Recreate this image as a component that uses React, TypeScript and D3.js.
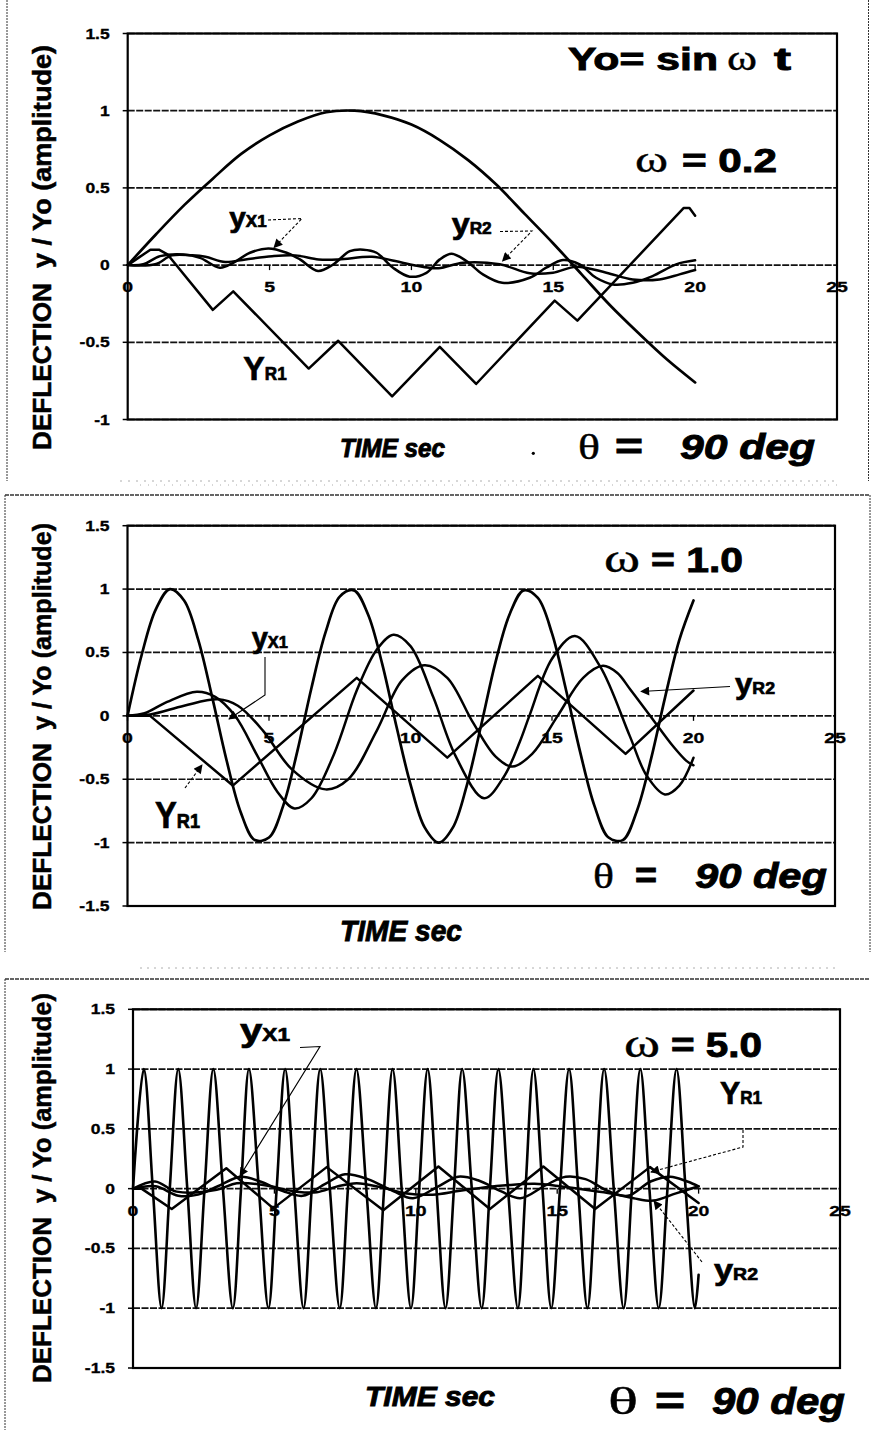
import * as d3 from 'd3';

type Pt = [number, number];

// shared axes
const X_TICKS = [0, 5, 10, 15, 20, 25];
const Y_TICKS_TOP = [-1, -0.5, 0, 0.5, 1, 1.5];
const Y_TICKS_FULL = [-1.5, -1, -0.5, 0, 0.5, 1, 1.5];

// ω = 0.2  [time sec, y/Yo]
const P1_YO: Pt[] = [
  [0, 0], [1, 0.2], [2, 0.39], [3, 0.56], [4, 0.72], [5, 0.84], [6, 0.93], [7, 0.99],
  [8, 1.0], [9, 0.97], [10, 0.91], [11, 0.81], [12, 0.68], [13, 0.52], [14, 0.33],
  [15, 0.14], [16, -0.06], [17, -0.26], [18, -0.44], [19, -0.61], [20, -0.76],
];
const P1_YR1: Pt[] = [
  [0, 0], [0.4, 0.05], [0.8, 0.1], [1.1, 0.1], [1.4, 0.07], [3.0, -0.29], [3.72, -0.17],
  [6.38, -0.67], [7.42, -0.49], [9.32, -0.85], [11.0, -0.53], [12.28, -0.77],
  [15.05, -0.23], [15.85, -0.36], [19.6, 0.37], [19.8, 0.37], [20, 0.32],
];
const P1_YX1: Pt[] = [
  [0, 0], [0.55, 0.005], [1.14, 0.058], [1.96, 0.069], [2.55, 0.047], [3.25, -0.017],
  [3.72, 0.015], [4.31, 0.08], [4.96, 0.108], [5.6, 0.08], [6.07, 0.037], [6.71, -0.038],
  [7.24, 0.004], [7.83, 0.09], [8.3, 0.1], [8.77, 0.08], [9.35, -0.017], [9.94, -0.075],
  [10.53, -0.05], [11.0, 0.037], [11.41, 0.074], [11.94, 0.026], [12.52, -0.06],
  [13.2, -0.114], [14.17, -0.082], [14.75, -0.017], [15.34, 0.033], [15.93, 0.005],
  [16.51, -0.082], [17.1, -0.125], [17.8, -0.114], [18.5, -0.071], [19.33, 0.005],
  [20, 0.031],
];
const P1_YR2: Pt[] = [
  [0, 0], [0.97, 0.005], [1.56, 0.063], [2.27, 0.063], [2.74, 0.054], [3.44, 0.02],
  [4.15, 0.037], [5.09, 0.058], [5.91, 0.063], [6.73, 0.037], [7.44, 0.037], [8.61, 0.054],
  [9.43, 0.026], [10.13, -0.002], [10.95, -0.02], [11.82, 0.016], [13.11, 0.005],
  [14.17, -0.053], [14.99, -0.049], [15.81, -0.01], [16.87, -0.049], [17.8, -0.093],
  [18.74, -0.093], [19.45, -0.06], [20, -0.032],
];

// ω = 1.0
const P2_YO: Pt[] = [
  [0, 0], [0.5, 0.48], [1, 0.84], [1.5, 1.0], [2, 0.91], [2.5, 0.6], [3, 0.14], [3.5, -0.35],
  [4, -0.76], [4.5, -0.98], [5, -0.96], [5.5, -0.71], [6, -0.28], [6.5, 0.22], [7, 0.66],
  [7.5, 0.94], [8, 0.99], [8.5, 0.8], [9, 0.41], [9.5, -0.08], [10, -0.54], [10.5, -0.88],
  [11, -1.0], [11.5, -0.88], [12, -0.54], [12.5, -0.07], [13, 0.42], [13.5, 0.8], [14, 0.99],
  [14.5, 0.93], [15, 0.65], [15.5, 0.2], [16, -0.29], [16.5, -0.71], [17, -0.96],
  [17.5, -0.98], [18, -0.75], [18.5, -0.34], [19, 0.15], [19.5, 0.6], [20, 0.91],
];
const P2_YR1: Pt[] = [
  [0, 0], [0.8, 0], [3.72, -0.55], [8.1, 0.3], [11.3, -0.33], [14.5, 0.315], [17.6, -0.3],
  [20, 0.2],
];
const P2_YX1: Pt[] = [
  [0, 0], [0.6, 0.02], [1.4, 0.11], [2.45, 0.19], [3.1, 0.15], [3.8, 0.0], [4.6, -0.32],
  [5.3, -0.6], [5.9, -0.73], [6.5, -0.65], [7.3, -0.3], [8.1, 0.2], [8.8, 0.52], [9.4, 0.64],
  [10.0, 0.55], [10.8, 0.15], [11.6, -0.32], [12.6, -0.65], [13.3, -0.48], [13.87, -0.2],
  [14.2, 0.0], [15.0, 0.45], [15.81, 0.63], [16.7, 0.39], [17.75, -0.16], [18.34, -0.47],
  [18.99, -0.62], [19.5, -0.55], [20, -0.33],
];
const P2_YR2: Pt[] = [
  [0, 0], [0.8, 0.01], [2.0, 0.08], [3.2, 0.13], [3.9, 0.08], [4.8, -0.12], [5.8, -0.42],
  [7.0, -0.58], [7.8, -0.5], [8.8, -0.12], [9.7, 0.28], [10.5, 0.4], [11.3, 0.3],
  [12.2, -0.05], [13.0, -0.32], [13.6, -0.4], [14.3, -0.3], [15.2, 0.0], [16.1, 0.3],
  [16.8, 0.395], [17.3, 0.34], [17.76, 0.21], [18.57, -0.03], [19.28, -0.24],
  [19.75, -0.355], [20, -0.39],
];

// ω = 5.0
const P3_YO: Pt[] = [
  [0, 0], [0.38, 1], [0.7, 0], [1.01, -1], [1.3, 0], [1.6, 1], [1.92, 0], [2.23, -1],
  [2.53, 0], [2.84, 1], [3.18, 0], [3.53, -1], [3.82, 0], [4.1, 1], [4.45, 0], [4.79, -1],
  [5.08, 0], [5.38, 1], [5.7, 0], [6.03, -1], [6.32, 0], [6.62, 1], [6.96, 0], [7.31, -1],
  [7.6, 0], [7.9, 1], [8.25, 0], [8.59, -1], [8.88, 0], [9.18, 1], [9.5, 0], [9.83, -1],
  [10.12, 0], [10.42, 1], [10.73, 0], [11.05, -1], [11.35, 0], [11.64, 1], [11.98, 0],
  [12.33, -1], [12.62, 0], [12.92, 1], [13.26, 0], [13.61, -1], [13.88, 0], [14.16, 1],
  [14.48, 0], [14.79, -1], [15.1, 0], [15.42, 1], [15.74, 0], [16.07, -1], [16.36, 0],
  [16.66, 1], [17.0, 0], [17.35, -1], [17.64, 0], [17.94, 1], [18.26, 0], [18.59, -1],
  [18.9, 0], [19.22, 1], [19.54, 0], [19.87, -1], [20, -0.72],
];
const P3_YR1: Pt[] = [
  [0, 0], [0.3, 0], [1.37, -0.17], [3.3, 0.17], [4.96, -0.165], [6.85, 0.18], [8.85, -0.18],
  [10.8, 0.185], [12.62, -0.17], [14.51, 0.185], [16.34, -0.17], [18.28, 0.18], [20, -0.12],
];
const P3_YX1: Pt[] = [
  [0, 0], [0.8, 0.02], [1.6, -0.06], [2.3, -0.05], [3.0, 0.02], [3.8, 0.1], [4.5, 0.06],
  [5.3, -0.02], [6.0, -0.06], [6.8, 0.04], [7.5, 0.12], [8.3, 0.08], [9.2, -0.02],
  [9.9, -0.08], [10.8, 0.02], [11.5, 0.1], [12.2, 0.07], [13.0, -0.02], [13.7, -0.08],
  [14.6, 0.03], [15.3, 0.1], [16.0, 0.08], [16.8, -0.02], [17.5, -0.06], [18.3, 0.06],
  [19.0, 0.1], [19.6, 0.06], [20, 0.02],
];
const P3_YR2: Pt[] = [
  [0, 0], [0.78, 0.06], [1.54, -0.025], [2.96, -0.01], [3.67, 0.045], [4.61, 0.03],
  [5.79, -0.025], [6.5, -0.03], [7.2, 0.017], [7.91, 0.045], [8.8, 0.01], [9.68, -0.04],
  [10.6, -0.05], [11.5, -0.02], [12.4, 0.01], [13.3, 0.03], [14.2, 0.04], [15.1, 0.02],
  [16.0, -0.01], [16.9, -0.04], [17.7, -0.08], [18.4, -0.1], [19.2, -0.04], [20, 0.02],
];

const SANS = "'Liberation Sans', Arial, Helvetica, sans-serif";
const SERIF = "'Liberation Serif', 'Times New Roman', Times, serif";

type Geo = { left: number; right: number; top: number; bottom: number; yMin: number; yMax: number };
type Series = { data: Pt[]; zig?: boolean; w?: number };

// heavy scanned-print look: bold glyphs with a thin outline
function Txt({
  x, y, w, size, serif = false, italic = false, weight = 'bold', children,
}: {
  x: number; y: number; w: number; size: number; serif?: boolean; italic?: boolean;
  weight?: string; children: React.ReactNode;
}) {
  return (
    <text
      x={x}
      y={y}
      fontSize={size}
      fontFamily={serif ? SERIF : SANS}
      fontWeight={weight}
      fontStyle={italic ? 'italic' : 'normal'}
      textLength={w}
      lengthAdjust="spacingAndGlyphs"
      fill="#000"
      stroke="#000"
      strokeWidth={serif ? 0.4 : 0.9}
    >
      {children}
    </text>
  );
}

function Sub({ x, y, w, big, small, main, sub }: {
  x: number; y: number; w: number; big: number; small: number; main: string; sub: string;
}) {
  return (
    <text x={x} y={y} fontFamily={SANS} fontWeight="bold" textLength={w}
      lengthAdjust="spacingAndGlyphs" fill="#000" stroke="#000" strokeWidth={0.7}>
      <tspan fontSize={big}>{main}</tspan>
      <tspan fontSize={small}>{sub}</tspan>
    </text>
  );
}

function Leader({ pts, dashed = false }: { pts: Pt[]; dashed?: boolean }) {
  return (
    <polyline
      points={pts.map((p) => p.join(',')).join(' ')}
      fill="none"
      stroke="#000"
      strokeWidth={1.1}
      strokeDasharray={dashed ? '3 2' : undefined}
      markerEnd="url(#arr)"
    />
  );
}

function YTitle({ x, yStart1, len1, yStart2, len2 }: {
  x: number; yStart1: number; len1: number; yStart2: number; len2: number;
}) {
  return (
    <g fontFamily={SANS} fontWeight="bold" fontSize={25} fill="#000" stroke="#000" strokeWidth={0.5}>
      <text transform={`translate(${x},${yStart1}) rotate(-90)`} textLength={len1}
        lengthAdjust="spacingAndGlyphs">DEFLECTION</text>
      <text transform={`translate(${x},${yStart2}) rotate(-90)`} textLength={len2}
        lengthAdjust="spacingAndGlyphs">y / Yo (amplitude)</text>
    </g>
  );
}

function Plot({ g, yTicks, series }: { g: Geo; yTicks: number[]; series: Series[] }) {
  const x = d3.scaleLinear().domain([0, 25]).range([g.left, g.right]);
  const y = d3.scaleLinear().domain([g.yMin, g.yMax]).range([g.bottom, g.top]);
  const y0 = y(0);
  return (
    <g>
      {yTicks.map((t) => (
        <line key={'g' + t} x1={g.left} x2={g.right} y1={y(t)} y2={y(t)}
          stroke="#111" strokeWidth={1.7} strokeDasharray="7 1.5" />
      ))}
      {series.map((s, i) => {
        const line = d3
          .line<Pt>()
          .x((d) => x(d[0]))
          .y((d) => y(d[1]))
          .curve(s.zig ? d3.curveLinear : d3.curveCatmullRom.alpha(0.5));
        return (
          <path key={i} d={line(s.data) ?? ''} fill="none" stroke="#000"
            strokeWidth={s.w ?? 2.5} strokeLinejoin="round" strokeLinecap="round" />
        );
      })}
      <rect x={g.left} y={g.top} width={g.right - g.left} height={g.bottom - g.top}
        fill="none" stroke="#000" strokeWidth={2.2} />
      {yTicks.map((t) => (
        <g key={'y' + t}>
          <line x1={g.left - 5} x2={g.left} y1={y(t)} y2={y(t)} stroke="#000" strokeWidth={1.5} />
          <text transform={`translate(${g.left - 18},${y(t) + 5}) scale(1.25,1)`}
            textAnchor="end" fontFamily={SANS} fontWeight="bold" fontSize={14}
            stroke="#000" strokeWidth={0.3}>
            {String(t)}
          </text>
        </g>
      ))}
      {X_TICKS.map((t) => (
        <g key={'x' + t}>
          <line x1={x(t)} x2={x(t)} y1={y0} y2={y0 + 5} stroke="#000" strokeWidth={1.3} />
          <text transform={`translate(${x(t)},${y0 + 27}) scale(1.3,1)`}
            textAnchor="middle" fontFamily={SANS} fontWeight="bold" fontSize={15}
            stroke="#000" strokeWidth={0.3}>
            {String(t)}
          </text>
        </g>
      ))}
    </g>
  );
}

export default function App() {
  const g1: Geo = { left: 127.7, right: 837, top: 33.5, bottom: 419.5, yMin: -1, yMax: 1.5 };
  const g2: Geo = { left: 127.5, right: 835, top: 525.7, bottom: 906, yMin: -1.5, yMax: 1.5 };
  const g3: Geo = { left: 133, right: 840, top: 1009.3, bottom: 1368, yMin: -1.5, yMax: 1.5 };

  return (
    <div style={{ position: 'absolute', left: 0, top: 0 }}>
      <svg width={873} height={1430} viewBox="0 0 873 1430" style={{ display: 'block', background: '#fff' }}>
        <defs>
          <marker id="arr" viewBox="0 0 10 10" refX="9" refY="5" markerUnits="userSpaceOnUse"
            markerWidth="11" markerHeight="9" orient="auto">
            <path d="M0,0 L10,5 L0,10 z" fill="#000" />
          </marker>
        </defs>
        <rect width={873} height={1430} fill="#fff" />

        {/* panel frames (scan borders) */}
        <g stroke="#333" fill="none">
          <line x1={7} x2={7} y1={0} y2={481} strokeWidth={1} strokeDasharray="2 1" />
          <line x1={868.5} x2={868.5} y1={0} y2={481} strokeWidth={1} strokeDasharray="2 1" />
          <line x1={120} x2={840} y1={481} y2={481} strokeWidth={0.8} stroke="#999" strokeDasharray="2 6" />
          <line x1={140} x2={840} y1={485} y2={485} strokeWidth={0.8} stroke="#999" strokeDasharray="1 7" />
          <line x1={5} x2={870} y1={495} y2={495} strokeWidth={1.6} strokeDasharray="4 1" />
          <line x1={5} x2={5} y1={495} y2={952} strokeWidth={1} strokeDasharray="2 1" />
          <line x1={870} x2={870} y1={495} y2={952} strokeWidth={1} strokeDasharray="2 1" />
          <line x1={140} x2={840} y1={968} y2={968} strokeWidth={0.8} stroke="#999" strokeDasharray="2 5" />
          <line x1={5} x2={870} y1={979} y2={979} strokeWidth={1.6} strokeDasharray="4 1" />
          <line x1={5} x2={5} y1={979} y2={1430} strokeWidth={1} strokeDasharray="2 1" />
        </g>

        {/* ---------- panel 1 : ω = 0.2 ---------- */}
        <Plot g={g1} yTicks={Y_TICKS_TOP} series={[
          { data: P1_YO, w: 2.7 },
          { data: P1_YR1, zig: true },
          { data: P1_YX1 },
          { data: P1_YR2 },
        ]} />
        <YTitle x={51} yStart1={450} len1={167} yStart2={268} len2={223} />
        <Txt x={568} y={70} w={150} size={32}>Yo= sin</Txt>
        <Txt x={727} y={70} w={30} size={36} serif weight="normal">ω</Txt>
        <Txt x={774} y={70} w={17} size={32}>t</Txt>
        <Txt x={635} y={172} w={33} size={38} serif weight="normal">ω</Txt>
        <Txt x={682} y={172} w={95} size={33}>= 0.2</Txt>
        <Sub x={229.3} y={227} w={37.4} big={28} small={16} main="y" sub="X1" />
        <Leader pts={[[268, 220], [302, 218.5], [274, 247.5]]} dashed />
        <Sub x={451.7} y={234} w={40} big={30} small={16} main="y" sub="R2" />
        <Leader pts={[[500, 231.5], [532, 231], [502.5, 261]]} dashed />
        <Sub x={243.3} y={380} w={43.4} big={34} small={18} main="Y" sub="R1" />
        <Txt x={340} y={457} w={105} size={25} italic>TIME sec</Txt>
        <circle cx={533.3} cy={453.3} r={1.6} fill="#000" />
        <Txt x={578} y={459} w={22} size={36} serif weight="normal">θ</Txt>
        <Txt x={615} y={459} w={28} size={36}>=</Txt>
        <Txt x={680} y={459} w={135} size={35} italic>90 deg</Txt>

        {/* ---------- panel 2 : ω = 1.0 ---------- */}
        <Plot g={g2} yTicks={Y_TICKS_FULL} series={[
          { data: P2_YO, w: 2.7 },
          { data: P2_YR1, zig: true },
          { data: P2_YX1 },
          { data: P2_YR2 },
        ]} />
        <YTitle x={51} yStart1={910} len1={167} yStart2={730} len2={207} />
        <Txt x={604} y={572} w={36} size={40} serif weight="normal">ω</Txt>
        <Txt x={651} y={572} w={92} size={35}>= 1.0</Txt>
        <Sub x={251.7} y={648} w={36.3} big={30} small={17} main="y" sub="X1" />
        <Leader pts={[[265, 657], [265, 695], [229, 719]]} />
        <Sub x={155} y={828} w={45} big={36} small={20} main="Y" sub="R1" />
        <Leader pts={[[185, 788], [202, 765]]} dashed />
        <Sub x={735} y={694} w={40} big={30} small={17} main="y" sub="R2" />
        <Leader pts={[[730, 686.5], [641, 691.5]]} />
        <Txt x={593} y={888} w={21} size={36} serif weight="normal">θ</Txt>
        <Txt x={635} y={888} w={22} size={36}>=</Txt>
        <Txt x={695} y={888} w={132} size={35} italic>90 deg</Txt>
        <Txt x={340} y={941} w={122} size={29} italic>TIME sec</Txt>

        {/* ---------- panel 3 : ω = 5.0 ---------- */}
        <Plot g={g3} yTicks={Y_TICKS_FULL} series={[
          { data: P3_YO, w: 2.6 },
          { data: P3_YR1, zig: true },
          { data: P3_YX1 },
          { data: P3_YR2 },
        ]} />
        <YTitle x={51} yStart1={1383} len1={166} yStart2={1203} len2={210} />
        <Txt x={624} y={1057} w={36} size={40} serif weight="normal">ω</Txt>
        <Txt x={671} y={1057} w={91} size={35}>= 5.0</Txt>
        <Sub x={240} y={1041} w={50} big={32} small={18} main="y" sub="X1" />
        <Leader pts={[[300, 1047.5], [320, 1046.5], [240, 1176]]} />
        <Sub x={720} y={1104} w={42} big={32} small={18} main="Y" sub="R1" />
        <Leader pts={[[743, 1130], [743, 1147], [651, 1172]]} dashed />
        <Sub x={714} y={1280} w={44} big={30} small={17} main="y" sub="R2" />
        <Leader pts={[[702, 1262], [654, 1201]]} dashed />
        <Txt x={365} y={1406} w={130} size={28} italic>TIME sec</Txt>
        <Txt x={608} y={1414} w={30} size={38} serif weight="normal">θ</Txt>
        <Txt x={655} y={1414} w={30} size={38}>=</Txt>
        <Txt x={712} y={1414} w={133} size={37} italic>90 deg</Txt>
      </svg>
    </div>
  );
}
